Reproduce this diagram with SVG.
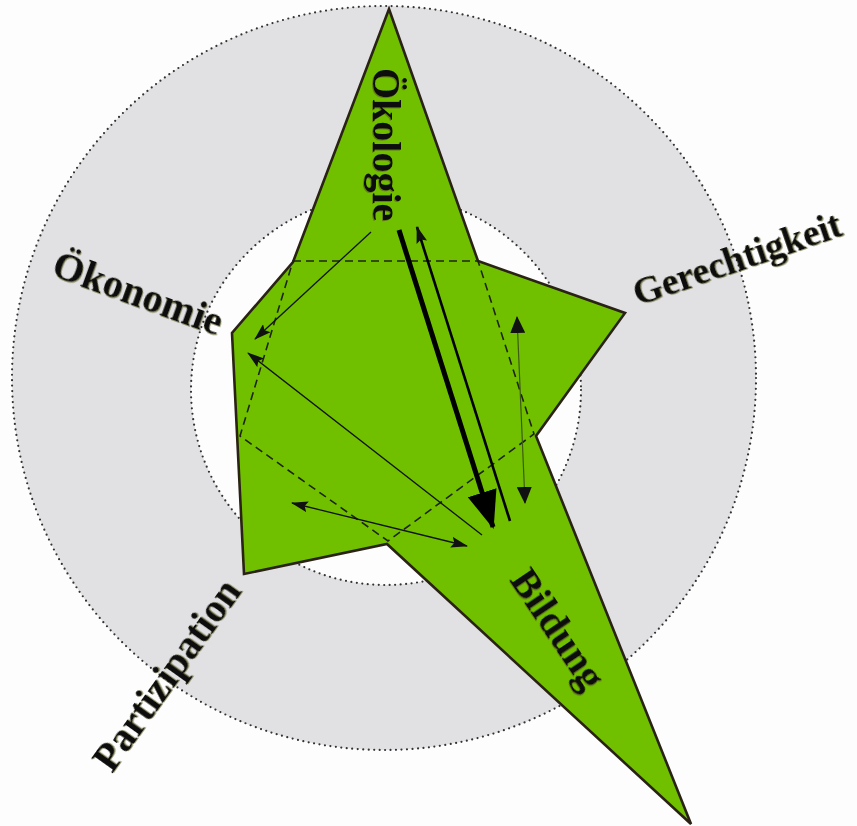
<svg xmlns="http://www.w3.org/2000/svg" width="857" height="826" viewBox="0 0 857 826">
<style>
.lbl{font-family:"Liberation Serif","Times New Roman",serif;font-weight:bold;font-size:40px;fill:#111108;filter:url(#sh)}
.dot{fill:none;stroke:#333;stroke-width:2.2;stroke-dasharray:0 5.5;stroke-linecap:round}
.dash{fill:none;stroke:#1e2410;stroke-width:1.6;stroke-dasharray:8 5}
.thin{fill:none;stroke:#111;stroke-width:1.3}
</style>
<defs>
<filter id="sh" x="-10%" y="-10%" width="120%" height="130%">
<feDropShadow dx="1" dy="1" stdDeviation="0.4" flood-color="#5a5a28" flood-opacity="0.6"/>
</filter>
<marker id="ah" markerUnits="userSpaceOnUse" markerWidth="17" markerHeight="11" refX="16" refY="5.5" orient="auto-start-reverse" viewBox="0 0 17 11">
<path d="M0,0 L17,5.5 L0,11 L3,5.5 z" fill="#111"/>
</marker>
<marker id="ahw" markerUnits="userSpaceOnUse" markerWidth="17" markerHeight="15" refX="16" refY="7.5" orient="auto-start-reverse" viewBox="0 0 17 15">
<path d="M0,0 L17,7.5 L0,15 z" fill="#111"/>
</marker>
<marker id="ahb" markerUnits="userSpaceOnUse" markerWidth="38" markerHeight="30" refX="36" refY="15" orient="auto" viewBox="0 0 38 30">
<path d="M0,0 L38,15 L0,30 z" fill="#000"/>
</marker>
</defs>
<rect width="857" height="826" fill="#fdfdfd"/>
<g id="ring">
<circle cx="384" cy="378" r="372" fill="#e1e1e3"/>
<circle cx="384" cy="378" r="372" class="dot"/>
<circle cx="386" cy="390" r="195" fill="#fdfdfd"/>
<circle cx="386" cy="390" r="195" class="dot"/>
</g>
<g id="profile">
<polygon points="389,9 478,261 625,313 536,436 691,824 387,544 244,574 232,333 293,262" fill="#70c000" stroke="#2a2215" stroke-width="2.6" stroke-linejoin="miter"/>
<polygon points="293,261 478,261 534,434 388,541 240,436" class="dash"/>
</g>
<g id="connectors">
<line x1="399" y1="230" x2="493" y2="527" stroke="#000" stroke-width="5" marker-end="url(#ahb)"/>
<line x1="510" y1="521" x2="417" y2="227" stroke="#000" stroke-width="2.6" marker-end="url(#ah)"/>
<line x1="371" y1="232" x2="255" y2="339" class="thin" marker-end="url(#ah)"/>
<line x1="482" y1="535" x2="248" y2="353" class="thin" marker-end="url(#ah)"/>
<line x1="292" y1="503" x2="467" y2="546" class="thin" marker-start="url(#ah)" marker-end="url(#ah)"/>
<line x1="517" y1="317" x2="525" y2="503" stroke="#3b5a12" stroke-width="1.2" marker-start="url(#ahw)" marker-end="url(#ahw)"/>
</g>
<g id="oekologie"><text class="lbl" transform="translate(373,68) rotate(90)">Ökologie</text></g>
<g id="oekonomie"><text class="lbl" transform="translate(50,275) rotate(20)">Ökonomie</text></g>
<g id="gerechtigkeit"><text class="lbl" style="font-size:37.5px" transform="translate(638,306) rotate(-19)">Gerechtigkeit</text></g>
<g id="partizipation"><text class="lbl" transform="translate(112,774) rotate(-54.5)">Partizipation</text></g>
<g id="bildung"><text class="lbl" transform="translate(509,580) rotate(56)">Bildung</text></g>
</svg>
